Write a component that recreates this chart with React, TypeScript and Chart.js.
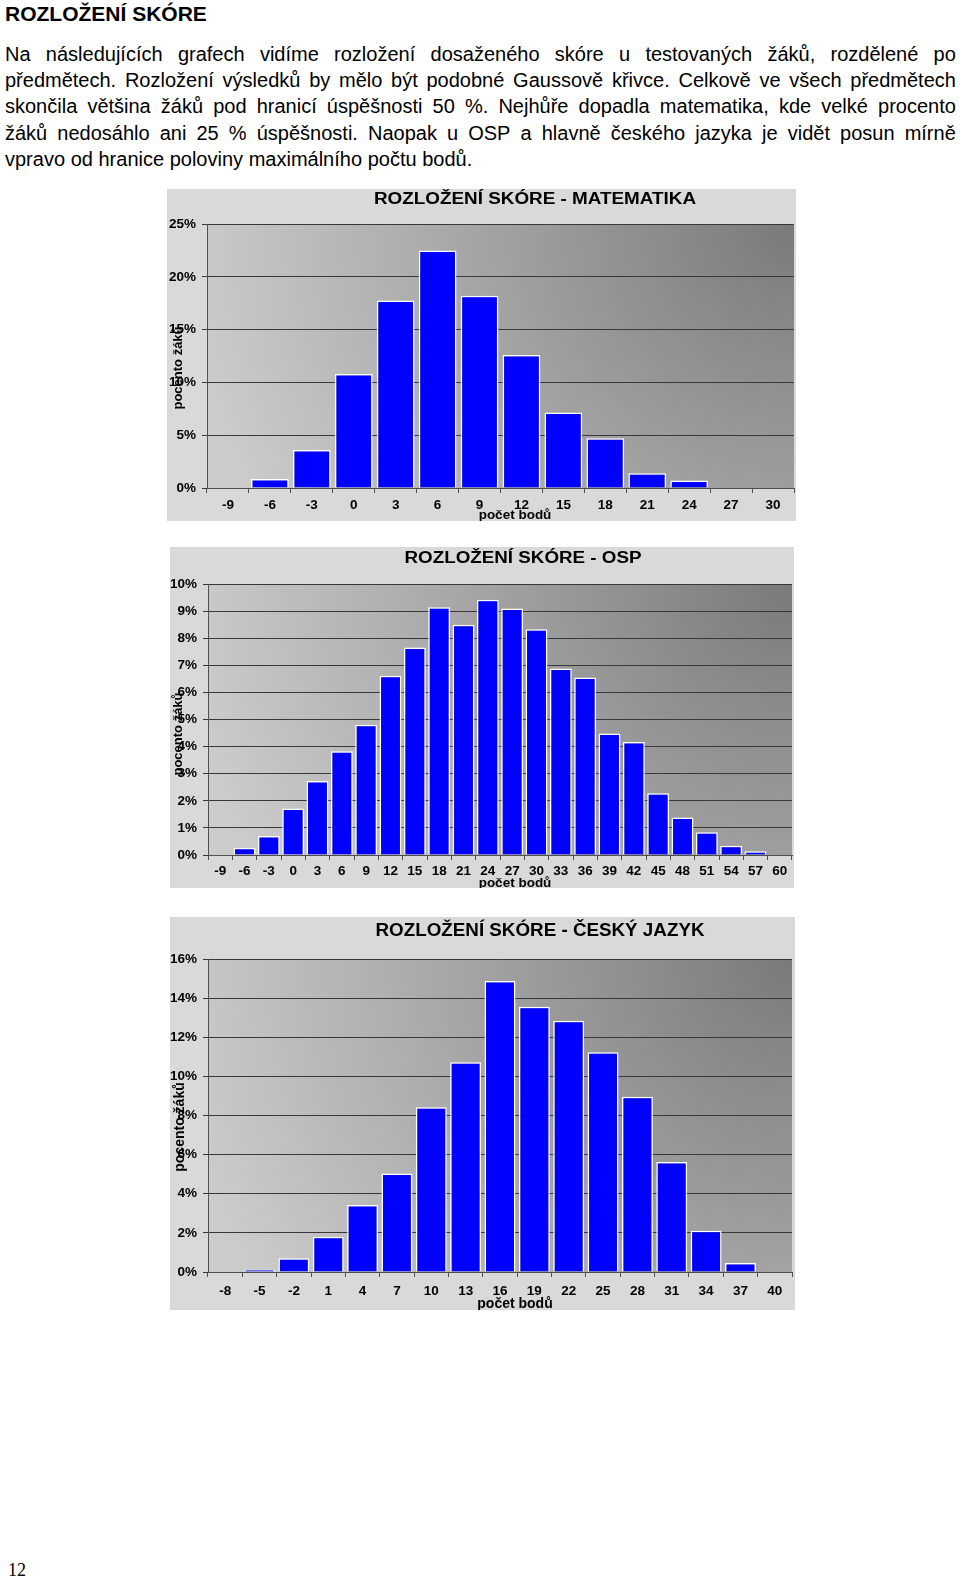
import React, { useEffect, useRef } from 'react';
import { Chart, registerables } from 'chart.js';

Chart.register(...registerables);

// ---------- data ----------
const mathCategories = ['-9', '-6', '-3', '0', '3', '6', '9', '12', '15', '18', '21', '24', '27', '30'];
const mathValues = [0, 0.85, 3.6, 10.8, 17.75, 22.5, 18.2, 12.6, 7.15, 4.7, 1.4, 0.7, 0, 0];
const mathYMax = 25;
const mathYStep = 5;

const ospCategories = ['-9', '-6', '-3', '0', '3', '6', '9', '12', '15', '18', '21', '24', '27', '30', '33', '36', '39', '42', '45', '48', '51', '54', '57', '60'];
const ospValues = [0, 0.27, 0.7, 1.72, 2.73, 3.83, 4.81, 6.61, 7.66, 9.14, 8.5, 9.42, 9.1, 8.33, 6.88, 6.55, 4.48, 4.17, 2.28, 1.38, 0.84, 0.34, 0.14, 0];
const ospYMax = 10;
const ospYStep = 1;

const cjCategories = ['-8', '-5', '-2', '1', '4', '7', '10', '13', '16', '19', '22', '25', '28', '31', '34', '37', '40'];
const cjValues = [0, 0.12, 0.7, 1.8, 3.42, 5.03, 8.42, 10.72, 14.87, 13.56, 12.84, 11.23, 8.96, 5.62, 2.11, 0.46, 0];
const cjYMax = 16;
const cjYStep = 2;

const heading = 'ROZLOŽENÍ SKÓRE';
const paragraphLines = [
  'Na následujících grafech vidíme rozložení dosaženého skóre u testovaných žáků, rozdělené po',
  'předmětech. Rozložení výsledků by mělo být podobné Gaussově křivce. Celkově ve všech předmětech',
  'skončila většina žáků pod hranicí úspěšnosti 50 %. Nejhůře dopadla matematika, kde velké procento',
  'žáků nedosáhlo ani 25 % úspěšnosti. Naopak u OSP a hlavně českého jazyka je vidět posun mírně',
  'vpravo od hranice poloviny maximálního počtu bodů.',
];
const pageNumber = '12';

const xTitle = 'počet bodů';
const yTitle = 'pocento žáků';

const FONT = '"Liberation Sans", Arial, sans-serif';

// ---------- plugin ----------
const framePlugin = {
  id: 'frame',
  beforeDraw(chart: any, _args: any, o: any) {
    const { ctx, width, height, chartArea: ca } = chart;
    ctx.save();
    ctx.fillStyle = '#d9d9d9';
    ctx.fillRect(0, 0, width, height);
    const w = ca.right - ca.left;
    const h = ca.bottom - ca.top;
    const r = Math.hypot(w, h);
    const g = ctx.createRadialGradient(ca.right, ca.top, 0, ca.right, ca.top, r * 0.95);
    g.addColorStop(0, '#7a7a7a');
    g.addColorStop(1, '#cccccc');
    ctx.fillStyle = g;
    ctx.fillRect(ca.left, ca.top, w, h);
    ctx.restore();
  },
  afterDraw(chart: any, _args: any, o: any) {
    const { ctx } = chart;
    ctx.save();
    ctx.fillStyle = '#000';
    // title: fit to measured cap height & width
    const size = o.titleCap / 0.716;
    ctx.font = `bold ${size}px ${FONT}`;
    ctx.textAlign = 'center';
    ctx.textBaseline = 'alphabetic';
    const natural = ctx.measureText(o.title).width;
    const sx = o.titleWidth / natural;
    ctx.save();
    ctx.translate(o.titleX, o.titleY + o.titleCap / 2);
    ctx.scale(sx, 1);
    ctx.fillText(o.title, 0, 0);
    ctx.restore();

    ctx.textBaseline = 'middle';
    ctx.font = `bold ${o.xTitleSize}px ${FONT}`;
    ctx.fillText(xTitle, o.xTitleX, o.xTitleY);
    ctx.translate(o.yTitleX, o.yTitleY);
    ctx.rotate(-Math.PI / 2);
    ctx.font = `bold ${o.yTitleSize}px ${FONT}`;
    ctx.fillText(yTitle, 0, 0);
    ctx.restore();
  },
};

type Spec = {
  labels: string[];
  values: number[];
  yMax: number;
  yStep: number;
  title: string;
  left: number;
  top: number;
  width: number;
  height: number;
  yWidth: number;
  padTop: number;
  padRight: number;
  xHeight: number;
  xPad: number;
  titleX: number;
  titleY: number;
  titleCap: number;
  titleWidth: number;
  xTitleX: number;
  xTitleY: number;
  xTitleSize: number;
  yTitleX: number;
  yTitleY: number;
  yTitleSize: number;
  tickSize: number;
};

function HistChart({ spec }: { spec: Spec }) {
  const ref = useRef<HTMLCanvasElement | null>(null);
  useEffect(() => {
    if (!ref.current) return;
    const chart = new Chart(ref.current, {
      type: 'bar',
      data: {
        labels: spec.labels,
        datasets: [
          {
            data: spec.values,
            backgroundColor: '#0000ff',
            borderColor: '#ffffff',
            borderWidth: 1.5,
            barPercentage: 0.9,
            categoryPercentage: 1,
          },
        ],
      },
      options: {
        animation: false,
        responsive: false,
        maintainAspectRatio: false,
        devicePixelRatio: 1,
        layout: { padding: { top: spec.padTop, right: spec.padRight, left: 0, bottom: 0 } },
        plugins: {
          legend: { display: false },
          tooltip: { enabled: false },
          title: { display: false },
          frame: {
            title: spec.title,
            titleX: spec.titleX,
            titleY: spec.titleY,
            titleCap: spec.titleCap,
            titleWidth: spec.titleWidth,
            xTitleX: spec.xTitleX,
            xTitleY: spec.xTitleY,
            xTitleSize: spec.xTitleSize,
            yTitleX: spec.yTitleX,
            yTitleY: spec.yTitleY,
            yTitleSize: spec.yTitleSize,
          },
        } as any,
        scales: {
          x: {
            offset: true,
            grid: {
              display: true,
              drawOnChartArea: false,
              drawTicks: true,
              tickLength: 5,
              color: '#505050',
              offset: true,
            },
            border: { color: '#505050', width: 1 },
            ticks: {
              color: '#000',
              font: { family: FONT, size: spec.tickSize, weight: 'bold' },
              padding: spec.xPad,
              maxRotation: 0,
              autoSkip: false,
            },
            afterFit: (s: any) => {
              s.height = spec.xHeight;
            },
          },
          y: {
            min: 0,
            max: spec.yMax,
            grid: {
              color: '#383838',
              lineWidth: 1,
              drawTicks: true,
              tickLength: 5,
            },
            border: { color: '#505050', width: 1 },
            ticks: {
              stepSize: spec.yStep,
              color: '#000',
              font: { family: FONT, size: spec.tickSize, weight: 'bold' },
              padding: 6,
              callback: (v: any) => `${v}%`,
            },
            afterFit: (s: any) => {
              s.width = spec.yWidth;
            },
          },
        },
      } as any,
      plugins: [framePlugin as any],
    });
    return () => chart.destroy();
  }, [spec]);
  return (
    <canvas
      ref={ref}
      width={spec.width}
      height={spec.height}
      style={{
        position: 'absolute',
        left: spec.left,
        top: spec.top,
        width: spec.width,
        height: spec.height,
      }}
    />
  );
}

const mathSpec: Spec = {
  labels: mathCategories,
  values: mathValues,
  yMax: mathYMax,
  yStep: mathYStep,
  title: 'ROZLOŽENÍ SKÓRE - MATEMATIKA',
  left: 167,
  top: 189,
  width: 629,
  height: 332,
  yWidth: 40,
  padTop: 35,
  padRight: 2,
  xHeight: 33,
  xPad: 4,
  titleX: 368,
  titleY: 9,
  titleCap: 12,
  titleWidth: 322,
  xTitleX: 348,
  xTitleY: 326,
  xTitleSize: 13.5,
  yTitleX: 11,
  yTitleY: 179,
  yTitleSize: 13,
  tickSize: 13.5,
};

const ospSpec: Spec = {
  labels: ospCategories,
  values: ospValues,
  yMax: ospYMax,
  yStep: ospYStep,
  title: 'ROZLOŽENÍ SKÓRE - OSP',
  left: 170,
  top: 547,
  width: 624,
  height: 341,
  yWidth: 38,
  padTop: 37,
  padRight: 2,
  xHeight: 33,
  xPad: 3,
  titleX: 353,
  titleY: 10,
  titleCap: 12,
  titleWidth: 237,
  xTitleX: 345,
  xTitleY: 336,
  xTitleSize: 13.5,
  yTitleX: 8,
  yTitleY: 187,
  yTitleSize: 13,
  tickSize: 13.5,
};

const cjSpec: Spec = {
  labels: cjCategories,
  values: cjValues,
  yMax: cjYMax,
  yStep: cjYStep,
  title: 'ROZLOŽENÍ SKÓRE - ČESKÝ JAZYK',
  left: 170,
  top: 917,
  width: 625,
  height: 393,
  yWidth: 38,
  padTop: 42,
  padRight: 3,
  xHeight: 38,
  xPad: 6,
  titleX: 370,
  titleY: 12,
  titleCap: 13,
  titleWidth: 329,
  xTitleX: 345,
  xTitleY: 387,
  xTitleSize: 14,
  yTitleX: 10,
  yTitleY: 210,
  yTitleSize: 14,
  tickSize: 13.5,
};

function JustifiedLine({ text, top, last }: { text: string; top: number; last?: boolean }) {
  const words = text.split(' ');
  return (
    <div
      style={{
        position: 'absolute',
        left: 5,
        top,
        width: 951,
        height: 26,
        lineHeight: '26px',
        display: 'flex',
        justifyContent: last ? 'flex-start' : 'space-between',
        gap: last ? '0.28em' : 0,
        whiteSpace: 'nowrap',
      }}
    >
      {words.map((w, i) => (
        <span key={i}>{w}</span>
      ))}
    </div>
  );
}

export default function App() {
  return (
    <div
      style={{
        position: 'absolute',
        left: 0,
        top: 0,
        width: 960,
        height: 1581,
        background: '#fff',
        fontFamily: FONT,
        color: '#000',
        fontSize: 20,
      }}
    >
      <div
        style={{
          position: 'absolute',
          left: 5,
          top: 1,
          lineHeight: '26px',
          fontWeight: 'bold',
          fontSize: 21,
        }}
      >
        {heading}
      </div>
      {paragraphLines.map((l, i) => (
        <JustifiedLine key={i} text={l} top={41 + i * 26.2} last={i === paragraphLines.length - 1} />
      ))}
      <HistChart spec={mathSpec} />
      <HistChart spec={ospSpec} />
      <HistChart spec={cjSpec} />
      <div
        style={{
          position: 'absolute',
          left: 8,
          top: 1558,
          lineHeight: '24px',
          fontFamily: '"Liberation Serif", "Times New Roman", serif',
          fontSize: 18,
        }}
      >
        {pageNumber}
      </div>
    </div>
  );
}
